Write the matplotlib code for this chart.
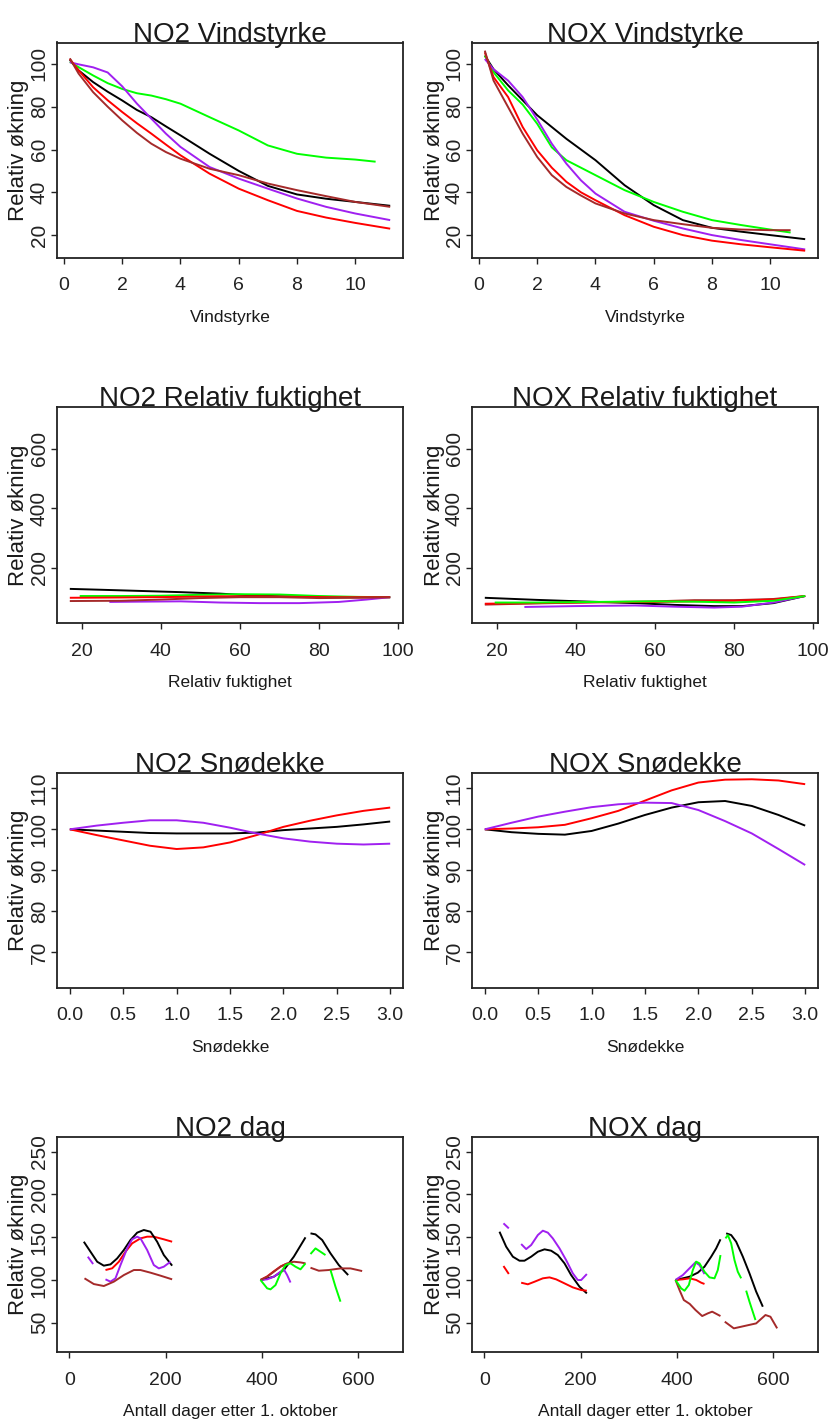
import numpy as np
import matplotlib
matplotlib.use('agg')
import matplotlib.pyplot as plt

nan = np.nan
W, H = 830, 1420
FONT = ['Liberation Sans', 'DejaVu Sans']
COL = {'black': '#000000', 'red': '#FF0000', 'green': '#00FF00',
       'purple': '#A020F0', 'brown': '#A52A2A'}

# --- Vindstyrke ---
wind_x = [0.2, 0.5, 1, 1.5, 2, 2.5, 3, 3.5, 4, 5, 6, 7, 8, 9, 10, 11.2]
wind_x_short = [0.2, 0.5, 1, 1.5, 2, 2.5, 3, 3.5, 4, 5, 6, 7, 8, 9, 10, 10.7]

no2_wind_black = [101.9, 97, 91.5, 87, 82.9, 78.5, 75.1, 70.8, 66.6, 58, 50, 43, 39, 37, 35.5, 33.7]
no2_wind_green = [101, 98.5, 94.6, 91, 88.3, 86.3, 85.2, 83.5, 81.4, 75.1, 68.9, 61.9, 58, 56.2, 55.3, 54.3]
no2_wind_purple = [100.8, 99.8, 98.4, 96, 89.5, 81.5, 74.4, 67.4, 61.2, 51.8, 46.4, 41.7, 37.1, 33.2, 30.1, 27]
no2_wind_red = [102.3, 97, 89.1, 83, 77.5, 72.3, 67.4, 62.3, 57.3, 48.7, 41.7, 36.3, 31.3, 28.2, 25.7, 23]
no2_wind_brown = [102.6, 95.5, 86.8, 80, 73.6, 67.8, 62.7, 58.8, 55.7, 51, 48, 44.1, 41, 38.2, 35.5, 33.2]

nox_wind_black = [103.9, 97.5, 90, 83, 76, 70.5, 65, 60, 55, 43.3, 34, 27, 23.4, 21.6, 20, 18.1]
nox_wind_purple = [102.3, 97.5, 92.2, 84.5, 74, 62.7, 53.4, 45.6, 39.4, 30.9, 26.7, 23.1, 20, 17.7, 15.7, 13.3]
nox_wind_red = [105.4, 93.8, 84.5, 70.5, 59.6, 51.5, 44.9, 40, 36.3, 29.3, 23.9, 20, 17.4, 15.7, 14.3, 12.7]
nox_wind_brown = [106.2, 92.2, 79.8, 67.4, 56.5, 48, 42.5, 38.5, 34.8, 30.1, 27, 25.1, 23.4, 22.6, 22.3, 22.3]
nox_wind_green = [103.9, 96.1, 87.6, 81, 72, 61, 55, 51.5, 48, 41, 35.5, 30.9, 27, 24.7, 22.6, 21.2]

# --- Relativ fuktighet ---
no2_hum_black_x = [17, 25, 35, 45, 55, 60, 70, 80, 90, 98]
no2_hum_black = [128, 125, 121, 117, 112, 108, 103, 101, 100, 100]
no2_hum_green_x = [19.5, 30, 40, 50, 60, 70, 80, 90, 98]
no2_hum_green = [104, 104, 105, 108, 110, 109, 104, 101, 100]
no2_hum_red_x = [17, 30, 45, 55, 65, 75, 85, 98]
no2_hum_red = [98, 99, 101, 103, 103, 101, 100, 100]
no2_hum_brown_x = [17, 30, 40, 50, 60, 70, 80, 90, 98]
no2_hum_brown = [87, 88, 92, 97, 100, 100, 97, 98, 100]
no2_hum_purple_x = [27, 35, 45, 55, 65, 75, 85, 92, 98]
no2_hum_purple = [84, 85, 86, 82, 80, 80, 84, 92, 100]

nox_hum_black_x = [17, 30, 41, 55, 65, 75, 82, 90, 98]
nox_hum_black = [98, 91, 86, 80, 74, 70, 70, 80, 104]
nox_hum_green_x = [19.5, 30, 45, 60, 70, 80, 90, 98]
nox_hum_green = [82, 82, 84, 86, 85, 82, 88, 104]
nox_hum_red_x = [17, 30, 45, 60, 70, 80, 90, 98]
nox_hum_red = [78, 80, 83, 84, 86, 88, 92, 104]
nox_hum_brown_x = [17, 30, 45, 60, 70, 80, 90, 98]
nox_hum_brown = [75, 79, 83, 86, 90, 90, 94, 104]
nox_hum_purple_x = [27, 40, 55, 65, 75, 82, 90, 98]
nox_hum_purple = [67, 70, 72, 68, 65, 68, 82, 104]

# --- Snødekke ---
snow_x = [0, 0.25, 0.5, 0.75, 1, 1.25, 1.5, 1.75, 2, 2.25, 2.5, 2.75, 3]
no2_snow_black = [100, 99.7, 99.4, 99.1, 99, 99, 99, 99.2, 99.8, 100.2, 100.6, 101.2, 101.9]
no2_snow_red = [100, 98.6, 97.3, 96, 95.2, 95.6, 96.8, 98.6, 100.6, 102.1, 103.4, 104.5, 105.3]
no2_snow_purple = [100, 100.9, 101.6, 102.2, 102.2, 101.6, 100.4, 99.0, 97.8, 97.0, 96.5, 96.3, 96.5]
nox_snow_black = [100, 99.3, 98.9, 98.7, 99.6, 101.4, 103.5, 105.3, 106.6, 106.9, 105.7, 103.5, 100.9]
nox_snow_red = [100, 100.2, 100.5, 101.1, 102.7, 104.5, 107, 109.5, 111.4, 112.1, 112.2, 111.9, 111]
nox_snow_purple = [100, 101.6, 103.1, 104.3, 105.4, 106.1, 106.5, 106.4, 104.7, 102, 99, 95.2, 91.3]

# --- dag (NaN = gap) ---
no2_day_black_x = [29.8, 43.7, 57.6, 71.4, 85.3, 99.2, 113.1, 126.9, 140.8, 154.7, 168.6, 182.4, 196.3, 213.6, nan,
                   398.8, 425.2, 446.0, 466.8, 491.1, nan, 501.5, 511.9, 525.8, 543.1, 560.4, 579.9]
no2_day_black = [144.7, 133.0, 121.3, 116.7, 118.2, 125.2, 135.0, 146.7, 155.3, 158.4, 156.4, 144.7, 129.1, 116.7, nan,
                 99.9, 103.8, 111.6, 127.2, 149.8, nan, 154.5, 153.3, 146.7, 131.1, 117.4, 105.7]
no2_day_red_x = [74.9, 88.8, 102.7, 116.5, 130.4, 147.7, 161.6, 175.5, 196.3, 213.6, nan,
                 397.4, 411, 425, 440, 452]
no2_day_red = [111.6, 113.6, 121.3, 133.0, 142.8, 148.6, 150.6, 150.6, 147.5, 144.7, nan,
               100, 104, 110, 116, 119]
no2_day_purple_x = [38.1, 49.2, nan, 74.9, 85.3, 95.7, 106.1, 120.0, 130.4, 140.8, 147.7, 161.6, 175.5, 185.9,
                    196.3, 210.2, nan, 397.4, 411.3, 425.2, 439.1, 446.0, 452.9, 459.9]
no2_day_purple = [127.2, 118.6, nan, 100.7, 98.0, 101.9, 117.4, 136.9, 147.5, 150.6, 148.6, 135.0, 117.4, 113.5,
                  115.5, 121.3, nan, 100, 100.7, 103.8, 109.6, 112.4, 105.7, 97.0]
no2_day_brown_x = [31.2, 50.6, 71.4, 92.3, 113.1, 133.9, 147.7, 168.6, 189.4, 213.6, nan,
                   397.4, 411.3, 425.2, 439.1, 452.9, 466.8, 480.7, 491.1, nan,
                   501.5, 518.8, 539.6, 563.9, 584.7, 609.0]
no2_day_brown = [101.9, 95.2, 92.9, 98.0, 105.7, 111.6, 111.6, 108.5, 105.0, 100.7, nan,
                 100, 103.8, 109.6, 115.5, 119.4, 121.3, 120.5, 119.4, nan,
                 114.3, 110.8, 111.6, 113.5, 113.5, 110.4]
no2_day_green_x = [397.4, 411.3, 418.3, 428.7, 439.1, 449.5, 459.9, 470.3, 480.7, 491.1, nan,
                   501.5, 511.9, 522.3, 532.7, nan, 543.1, 553.5, 563.9]
no2_day_green = [100, 90.2, 89, 94, 107.7, 117.4, 119.4, 115.5, 112.4, 119.4, nan,
                 130.3, 136.9, 133.0, 129.1, nan, 111.6, 92.1, 74.6]

nox_day_black_x = [31.2, 45.1, 59.0, 72.8, 83.2, 97.1, 111.0, 124.9, 138.7, 152.6, 166.5, 180.3, 197.7, 213.0, nan,
                   397.4, 412.7, 426.6, 443.9, 457.8, 471.7, 482.1, 491.1, nan,
                   502.9, 513.3, 523.7, 537.6, 551.4, 565.3, 579.2]
nox_day_black = [156.4, 138.9, 127.2, 122.5, 122.5, 127.2, 133.0, 135.8, 134.2, 129.1, 119.4, 105.7, 92.1, 84.3, nan,
                 99.9, 101.9, 103.8, 108.5, 115.5, 127.2, 136.9, 147.5, nan,
                 154.5, 152.5, 144.7, 127.2, 107.7, 86.4, 68.7]
nox_day_red_x = [39.5, 50.6, nan, 76.3, 90.2, 104.0, 121.4, 135.3, 149.1, 166.5, 183.8, 201.2, 213.0, nan,
                 397.4, 412.7, 426.6, 440.5, 450.9, 457.8]
nox_day_red = [116.3, 107.0, nan, 96.8, 94.9, 97.9, 101.9, 103.0, 100.7, 96.0, 91.3, 88.2, 87.4, nan,
               100, 100.7, 101.9, 100, 96.8, 95.3]
nox_day_purple_x = [39.5, 50.6, nan, 76.3, 86.7, 97.1, 111.0, 121.4, 131.8, 142.2, 156.1, 169.9, 183.8, 194.2,
                    201.2, 213.0, nan, 397.4, 412.7, 426.6, 439.1, 447.4, 457.8]
nox_day_purple = [166.2, 160.3, nan, 142.0, 136.1, 140.8, 152.5, 157.6, 155.3, 148.6, 136.9, 123.2, 107.7, 99.9,
                  99.9, 106.9, nan, 100, 105.7, 113.6, 120.6, 117.4, 106.9]
nox_day_green_x = [397.4, 409.2, 416.2, 425.2, 433.5, 440.5, 447.4, 457.8, 468.2, 478.6, 485.5, 491.1, nan,
                   501.5, 506.4, 513.3, 520.2, 527.1, 534.1, nan, 544.5, 551.4, 563.9]
nox_day_green = [100, 90.2, 87.4, 94.1, 111.6, 121.4, 119.4, 109.6, 103.0, 101.9, 111.6, 129.1, nan,
                 148.6, 152.5, 142.8, 123.2, 109.6, 101.9, nan, 87.5, 74.6, 53.1]
nox_day_brown_x = [397.4, 405.8, 414.8, 427, 439, 453, 465, 473.8, 491, nan,
                   500, 518.8, 534.1, 550, 565.3, 584.7, 595, 609]
nox_day_brown = [100, 88.2, 76.5, 72, 64.9, 57.8, 61, 62.9, 57.8, nan,
                 51.2, 43.4, 45.3, 47.3, 49.2, 59, 57, 43.4]

Y_LABEL = 'Relativ økning'

panels = [
    dict(title='NO2 Vindstyrke', xlabel='Vindstyrke', xlim=(-0.24, 11.64), ylim=(9.3, 110),
         xticks=[0, 2, 4, 6, 8, 10], yticks=[20, 40, 60, 80, 100], fmt='%d',
         curves=[('black', wind_x, no2_wind_black), ('green', wind_x_short, no2_wind_green),
                 ('purple', wind_x, no2_wind_purple), ('red', wind_x, no2_wind_red),
                 ('brown', wind_x, no2_wind_brown)]),
    dict(title='NOX Vindstyrke', xlabel='Vindstyrke', xlim=(-0.24, 11.64), ylim=(9.3, 110),
         xticks=[0, 2, 4, 6, 8, 10], yticks=[20, 40, 60, 80, 100], fmt='%d',
         curves=[('black', wind_x, nox_wind_black), ('green', wind_x_short, nox_wind_green),
                 ('purple', wind_x, nox_wind_purple), ('red', wind_x, nox_wind_red),
                 ('brown', wind_x_short, nox_wind_brown)]),
    dict(title='NO2 Relativ fuktighet', xlabel='Relativ fuktighet', xlim=(13.76, 101.24), ylim=(12, 742),
         xticks=[20, 40, 60, 80, 100], yticks=[200, 400, 600], fmt='%d',
         curves=[('black', no2_hum_black_x, no2_hum_black), ('green', no2_hum_green_x, no2_hum_green),
                 ('purple', no2_hum_purple_x, no2_hum_purple), ('red', no2_hum_red_x, no2_hum_red),
                 ('brown', no2_hum_brown_x, no2_hum_brown)]),
    dict(title='NOX Relativ fuktighet', xlabel='Relativ fuktighet', xlim=(13.76, 101.24), ylim=(12, 742),
         xticks=[20, 40, 60, 80, 100], yticks=[200, 400, 600], fmt='%d',
         curves=[('black', nox_hum_black_x, nox_hum_black), ('purple', nox_hum_purple_x, nox_hum_purple),
                 ('brown', nox_hum_brown_x, nox_hum_brown), ('red', nox_hum_red_x, nox_hum_red),
                 ('green', nox_hum_green_x, nox_hum_green)]),
    dict(title='NO2 Snødekke', xlabel='Snødekke', xlim=(-0.12, 3.12), ylim=(61.4, 113.8),
         xticks=[0, 0.5, 1, 1.5, 2, 2.5, 3], yticks=[70, 80, 90, 100, 110], fmt='%.1f',
         curves=[('black', snow_x, no2_snow_black), ('red', snow_x, no2_snow_red),
                 ('purple', snow_x, no2_snow_purple)]),
    dict(title='NOX Snødekke', xlabel='Snødekke', xlim=(-0.12, 3.12), ylim=(61.4, 113.8),
         xticks=[0, 0.5, 1, 1.5, 2, 2.5, 3], yticks=[70, 80, 90, 100, 110], fmt='%.1f',
         curves=[('black', snow_x, nox_snow_black), ('red', snow_x, nox_snow_red),
                 ('purple', snow_x, nox_snow_purple)]),
    dict(title='NO2 dag', xlabel='Antall dager etter 1. oktober', xlim=(-26, 694), ylim=(15.4, 267.5),
         xticks=[0, 200, 400, 600], yticks=[50, 100, 150, 200, 250], fmt='%d',
         curves=[('red', no2_day_red_x, no2_day_red), ('black', no2_day_black_x, no2_day_black),
                 ('purple', no2_day_purple_x, no2_day_purple), ('brown', no2_day_brown_x, no2_day_brown),
                 ('green', no2_day_green_x, no2_day_green)]),
    dict(title='NOX dag', xlabel='Antall dager etter 1. oktober', xlim=(-26, 694), ylim=(15.4, 267.5),
         xticks=[0, 200, 400, 600], yticks=[50, 100, 150, 200, 250], fmt='%d',
         curves=[('black', nox_day_black_x, nox_day_black), ('red', nox_day_red_x, nox_day_red),
                 ('purple', nox_day_purple_x, nox_day_purple), ('brown', nox_day_brown_x, nox_day_brown),
                 ('green', nox_day_green_x, nox_day_green)]),
]

# plot boxes in pixels (top-left origin)
col_left = [57, 472]
box_w = 346
rows = [(42.5, 258), (406.7, 623.3), (772.7, 987.7), (1136.7, 1352.3)]

fig = plt.figure(figsize=(W / 100, H / 100), dpi=100)
fig.patch.set_facecolor('white')

for i, p in enumerate(panels):
    left = col_left[i % 2]
    top, bottom = rows[i // 2]
    ax = fig.add_axes([left / W, 1 - bottom / H, box_w / W, (bottom - top) / H])
    for c, xs, ys in p['curves']:
        ax.plot(xs, ys, color=COL[c], lw=1.4, solid_capstyle='butt')
    ax.set_xlim(*p['xlim'])
    ax.set_ylim(*p['ylim'])
    for s in ax.spines.values():
        s.set_linewidth(1.3)
        s.set_color('#222222')
    ax.set_xticks(p['xticks'])
    ax.set_xticklabels([p['fmt'] % v for v in p['xticks']], fontsize=14, family=FONT, color='#222222')
    ax.set_yticks(p['yticks'])
    ax.set_yticklabels([str(v) for v in p['yticks']], fontsize=15, family=FONT, rotation=90,
                       va='center', color='#222222')
    ax.tick_params(axis='x', direction='out', length=4, width=1, pad=10, colors='#222222')
    ax.tick_params(axis='y', direction='out', length=4, width=1, pad=2, colors='#222222')

    cx = (left + box_w / 2) / W
    fig.text(cx, 1 - (top - 1) / H, p['title'], ha='center', va='baseline',
             fontsize=20, family=FONT, color='#1a1a1a')
    fig.text(cx, 1 - (bottom + 64) / H, p['xlabel'], ha='center', va='baseline',
             fontsize=12.5, family=FONT, color='#1a1a1a')
    fig.text((left - 38) / W, 1 - (top + bottom) / 2 / H, Y_LABEL, rotation=90,
             ha='center', va='center', fontsize=16, family=FONT, color='#1a1a1a')

fig.savefig('out.png', dpi=100)
